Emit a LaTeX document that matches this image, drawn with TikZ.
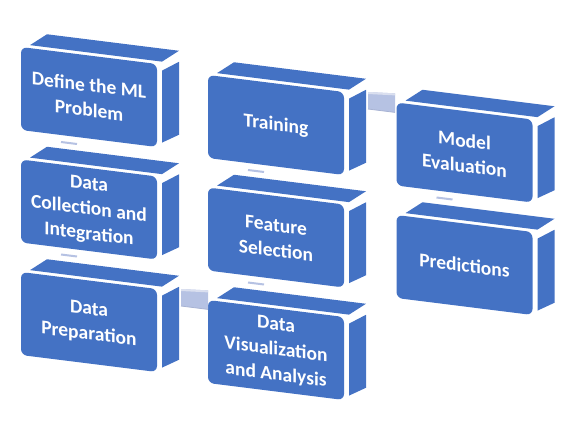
\documentclass[tikz,border=0pt]{standalone}
\usepackage{fontspec}
\setmainfont{Carlito}
\definecolor{boxblue}{HTML}{4472C4}
\definecolor{conn}{HTML}{B6C2E3}
\definecolor{connhi}{HTML}{DADFEF}
\definecolor{connlo}{HTML}{A8B3D3}
\tikzset{
  face/.style={fill=boxblue},
  boxtext/.style={text=white, font=\fontsize{19.5}{25}\selectfont\bfseries, align=center, transform shape, inner sep=0pt},
  vconn/.style={draw=conn, line width=2pt},
  hconn/.style={fill=conn},
}
\newcommand\mlbox[4]{%
  \begin{scope}[shift={(#2,#3)}, yslant=-0.125]
    \fill[face] (9,-3) -- (26,-16) -- (158,-16) -- (141,-3) -- cycle;
    \fill[face] (141,6) -- (158,-5) -- (158,68) -- (141,78) -- cycle;
    \fill[face, rounded corners=6pt] (0,0) rectangle (136,83);
    \node[boxtext] (#1) at (68,42) {#4};
    \coordinate (#1-dl) at (40,90);
    \coordinate (#1-dr) at (56,90);
    \coordinate (#1-h1) at (160,-3);
    \coordinate (#1-h2) at (187,-5);
    \coordinate (#1-h3) at (187,14);
    \coordinate (#1-h4) at (160,14);
    \coordinate (#1-t1) at (160,-1);
    \coordinate (#1-t2) at (187,-3);
  \end{scope}}
\begin{document}
\begin{tikzpicture}[x=1pt, y=-1pt]
  \useasboundingbox (0,0) rectangle (583,429);
  \mlbox{define}{21}{47}{Define the ML\\Problem}
  \mlbox{collect}{21}{159.5}{Data\\Collection and\\Integration}
  \mlbox{prep}{21}{272}{Data\\Preparation}
  \mlbox{train}{208}{75}{Training}
  \mlbox{feature}{208}{187.5}{Feature\\Selection}
  \mlbox{visual}{208}{300}{Data\\Visualization\\and Analysis}
  \mlbox{eval}{396.5}{102.5}{Model\\Evaluation}
  \mlbox{pred}{396.5}{215}{Predictions}
  % vertical connectors (seen edge-on)
  \draw[vconn] (define-dl) -- (define-dr);
  \draw[vconn] (collect-dl) -- (collect-dr);
  \draw[vconn] (train-dl) -- (train-dr);
  \draw[vconn] (feature-dl) -- (feature-dr);
  \draw[vconn] (eval-dl) -- (eval-dr);
  % horizontal connectors
  \fill[hconn] (prep-h1) -- (prep-h2) -- (prep-h3) -- (prep-h4) -- cycle;
  \fill[connhi] (prep-h1) -- (prep-h2) -- (prep-t2) -- (prep-t1) -- cycle;
  \draw[connlo, line width=0.8pt] (prep-h4) -- (prep-h3);
  \fill[hconn] (train-h1) -- (train-h2) -- (train-h3) -- (train-h4) -- cycle;
  \fill[connhi] (train-h1) -- (train-h2) -- (train-t2) -- (train-t1) -- cycle;
  \draw[connlo, line width=0.8pt] (train-h4) -- (train-h3);
\end{tikzpicture}
\end{document}
